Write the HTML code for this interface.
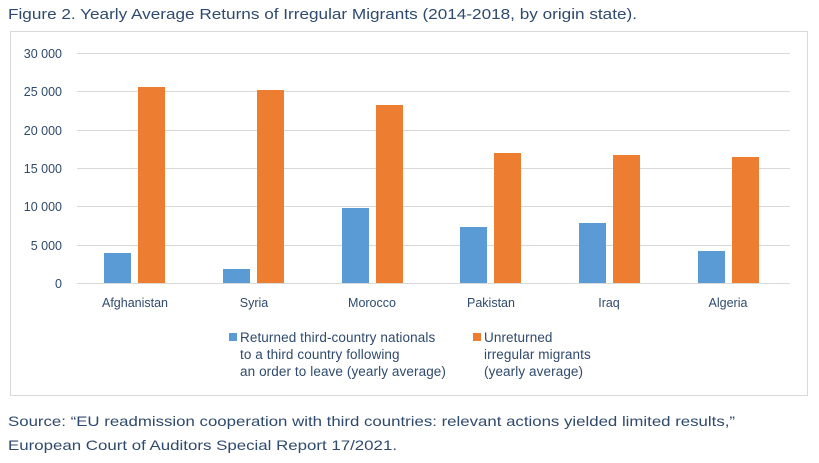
<!DOCTYPE html>
<html><head><meta charset="utf-8"><style>
body{margin:0;background:#fff;}
svg{display:block;font-family:"Liberation Sans",sans-serif;}
</style></head><body>
<svg width="819" height="463" viewBox="0 0 819 463">
<text x="8" y="19" font-size="15" fill="#2E4A6E" textLength="629" lengthAdjust="spacingAndGlyphs">Figure 2. Yearly Average Returns of Irregular Migrants (2014-2018, by origin state).</text>
<rect x="10.5" y="31.5" width="797" height="364" fill="#fff" stroke="#d9d9d9"/>
<g stroke="#d9d9d9" stroke-width="1">
<line x1="77" x2="790" y1="53.5" y2="53.5"/>
<line x1="77" x2="790" y1="91.5" y2="91.5"/>
<line x1="77" x2="790" y1="130.5" y2="130.5"/>
<line x1="77" x2="790" y1="168.5" y2="168.5"/>
<line x1="77" x2="790" y1="206.5" y2="206.5"/>
<line x1="77" x2="790" y1="245.5" y2="245.5"/>
<line x1="77" x2="790" y1="283.5" y2="283.5"/>
</g>
<g font-size="12.5" fill="#2E4A6E" text-anchor="end">
<text x="62" y="58">30 000</text>
<text x="62" y="96">25 000</text>
<text x="62" y="135">20 000</text>
<text x="62" y="173">15 000</text>
<text x="62" y="211">10 000</text>
<text x="62" y="250">5 000</text>
<text x="62" y="288">0</text>
</g>
<g fill="#5B9BD5">
<rect x="104" y="253" width="27" height="30"/>
<rect x="223" y="269" width="27" height="14"/>
<rect x="342" y="208" width="27" height="75"/>
<rect x="460" y="227" width="27" height="56"/>
<rect x="579" y="223" width="27" height="60"/>
<rect x="698" y="251" width="27" height="32"/>
</g>
<g fill="#ED7D31">
<rect x="138" y="87" width="27" height="196"/>
<rect x="257" y="90" width="27" height="193"/>
<rect x="376" y="105" width="27" height="178"/>
<rect x="494" y="153" width="27" height="130"/>
<rect x="613" y="155" width="27" height="128"/>
<rect x="732" y="157" width="27" height="126"/>
</g>
<g font-size="12.5" fill="#2E4A6E" text-anchor="middle">
<text x="135" y="307">Afghanistan</text>
<text x="254" y="307">Syria</text>
<text x="372" y="307">Morocco</text>
<text x="491" y="307">Pakistan</text>
<text x="609" y="307">Iraq</text>
<text x="728" y="307">Algeria</text>
</g>
<rect x="229" y="333" width="8" height="8" fill="#5B9BD5"/>
<rect x="473" y="333" width="8" height="8" fill="#ED7D31"/>
<g font-size="13.5" fill="#2E4A6E" letter-spacing="0.1">
<text x="240" y="342">Returned third-country nationals</text>
<text x="240" y="359">to a third country following</text>
<text x="240" y="376">an order to leave (yearly average)</text>
<text x="484" y="342">Unreturned</text>
<text x="484" y="359">irregular migrants</text>
<text x="484" y="376">(yearly average)</text>
</g>
<g font-size="14" fill="#2E4A6E">
<text x="8" y="426" textLength="727" lengthAdjust="spacingAndGlyphs">Source: “EU readmission cooperation with third countries: relevant actions yielded limited results,”</text>
<text x="8" y="450" textLength="389" lengthAdjust="spacingAndGlyphs">European Court of Auditors Special Report 17/2021.</text>
</g>
</svg>
</body></html>
